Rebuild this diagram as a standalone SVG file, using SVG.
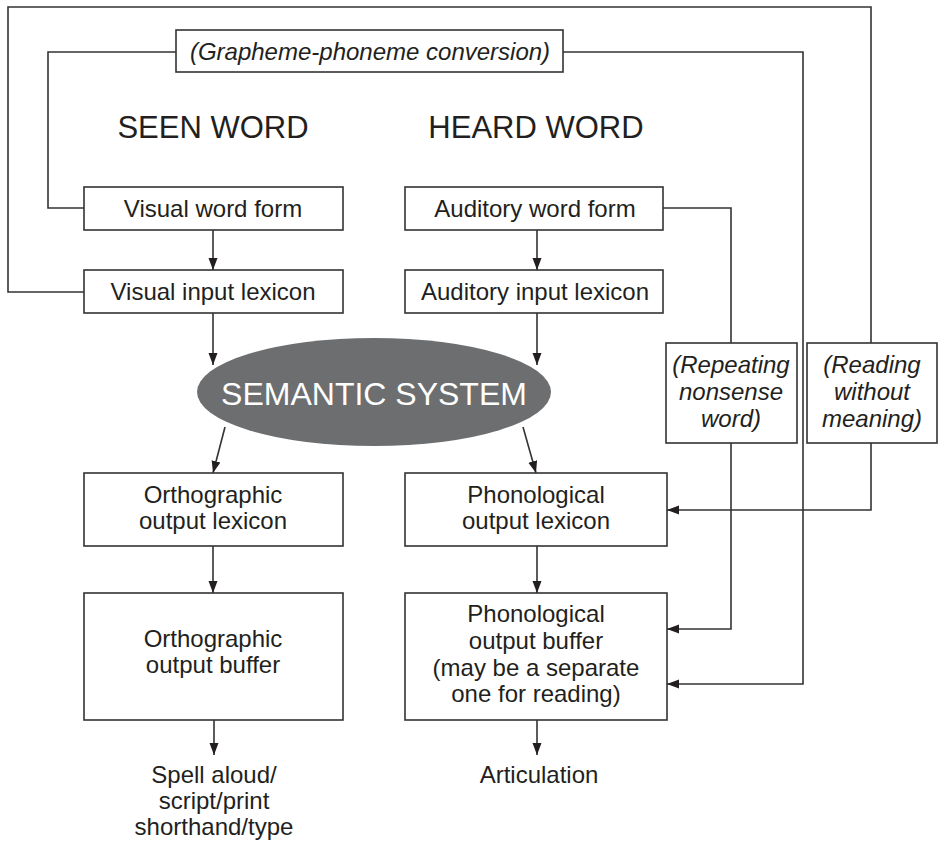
<svg xmlns="http://www.w3.org/2000/svg" width="939" height="843" viewBox="0 0 939 843">
<style>
text{font-family:"Liberation Sans",Arial,sans-serif;font-size:24px;fill:#231f20;text-anchor:middle}
.it{font-style:italic}
.hd{font-size:31px}
.sem{font-size:32px;fill:#ffffff}
.box{fill:#ffffff;stroke:#333333;stroke-width:1.6}
.ln{fill:none;stroke:#333333;stroke-width:1.6}
.ar{fill:none;stroke:#333333;stroke-width:1.6;marker-end:url(#ah)}
</style>
<defs>
<marker id="ah" viewBox="0 0 12 10" refX="12" refY="5" markerWidth="12" markerHeight="10" markerUnits="userSpaceOnUse" orient="auto">
<path d="M0,0.5 L12,5 L0,9.5 Z" fill="#231f20"/>
</marker>
</defs>
<rect width="939" height="843" fill="#ffffff"/>
<g id="connectors">
<path class="ln" d="M84,292 H8 V7 H871 V343"/>
<path class="ar" d="M871,443 V510 H667"/>
<path class="ln" d="M176,52 H48 V208 H84"/>
<path class="ar" d="M563,52 H803 V684 H667"/>
<path class="ln" d="M663,208 H731 V343"/>
<path class="ar" d="M731,443 V629 H667"/>
<path class="ar" d="M213,230 V270"/>
<path class="ar" d="M537,230 V270"/>
<path class="ar" d="M213,313 V365"/>
<path class="ar" d="M537,313 V365"/>
<path class="ar" d="M225,427 L213,473"/>
<path class="ar" d="M523,427 L536,473"/>
<path class="ar" d="M213,546 V593"/>
<path class="ar" d="M537,546 V593"/>
<path class="ar" d="M214,720 V755"/>
<path class="ar" d="M537,720 V755"/>
</g>
<g id="gpc"><rect class="box" x="176" y="30" width="387" height="42"/><text class="it" x="370" y="60">(Grapheme-phoneme conversion)</text></g>
<g id="seen-word"><text class="hd" x="213" y="138">SEEN WORD</text></g>
<g id="heard-word"><text class="hd" x="536" y="138">HEARD WORD</text></g>
<g id="visual-word-form"><rect class="box" x="84" y="187" width="259" height="43"/><text x="213" y="217">Visual word form</text></g>
<g id="visual-input-lexicon"><rect class="box" x="84" y="270" width="259" height="43"/><text x="213" y="300">Visual input lexicon</text></g>
<g id="auditory-word-form"><rect class="box" x="405" y="187" width="258" height="43"/><text x="535" y="217">Auditory word form</text></g>
<g id="auditory-input-lexicon"><rect class="box" x="405" y="270" width="258" height="43"/><text x="535" y="300">Auditory input lexicon</text></g>
<g id="semantic-system"><ellipse cx="374" cy="392" rx="177" ry="54" fill="#6d6e70"/><text class="sem" x="374" y="405">SEMANTIC SYSTEM</text></g>
<g id="repeating"><rect class="box" x="666" y="343" width="131" height="100"/><text class="it" x="731" y="373">(Repeating</text><text class="it" x="731" y="400">nonsense</text><text class="it" x="731" y="427">word)</text></g>
<g id="reading"><rect class="box" x="807" y="343" width="130" height="100"/><text class="it" x="872" y="373">(Reading</text><text class="it" x="872" y="400">without</text><text class="it" x="872" y="427">meaning)</text></g>
<g id="ortho-lexicon"><rect class="box" x="84" y="473" width="259" height="73"/><text x="213" y="503">Orthographic</text><text x="213" y="529">output lexicon</text></g>
<g id="phono-lexicon"><rect class="box" x="405" y="473" width="262" height="73"/><text x="536" y="503">Phonological</text><text x="536" y="529">output lexicon</text></g>
<g id="ortho-buffer"><rect class="box" x="84" y="593" width="259" height="127"/><text x="213" y="647">Orthographic</text><text x="213" y="673">output buffer</text></g>
<g id="phono-buffer"><rect class="box" x="405" y="593" width="262" height="127"/><text x="536" y="622">Phonological</text><text x="536" y="649">output buffer</text><text x="536" y="676">(may be a separate</text><text x="536" y="702">one for reading)</text></g>
<g id="spell"><text x="214" y="783">Spell aloud/</text><text x="214" y="809">script/print</text><text x="214" y="835">shorthand/type</text></g>
<g id="articulation"><text x="539" y="783">Articulation</text></g>
</svg>
